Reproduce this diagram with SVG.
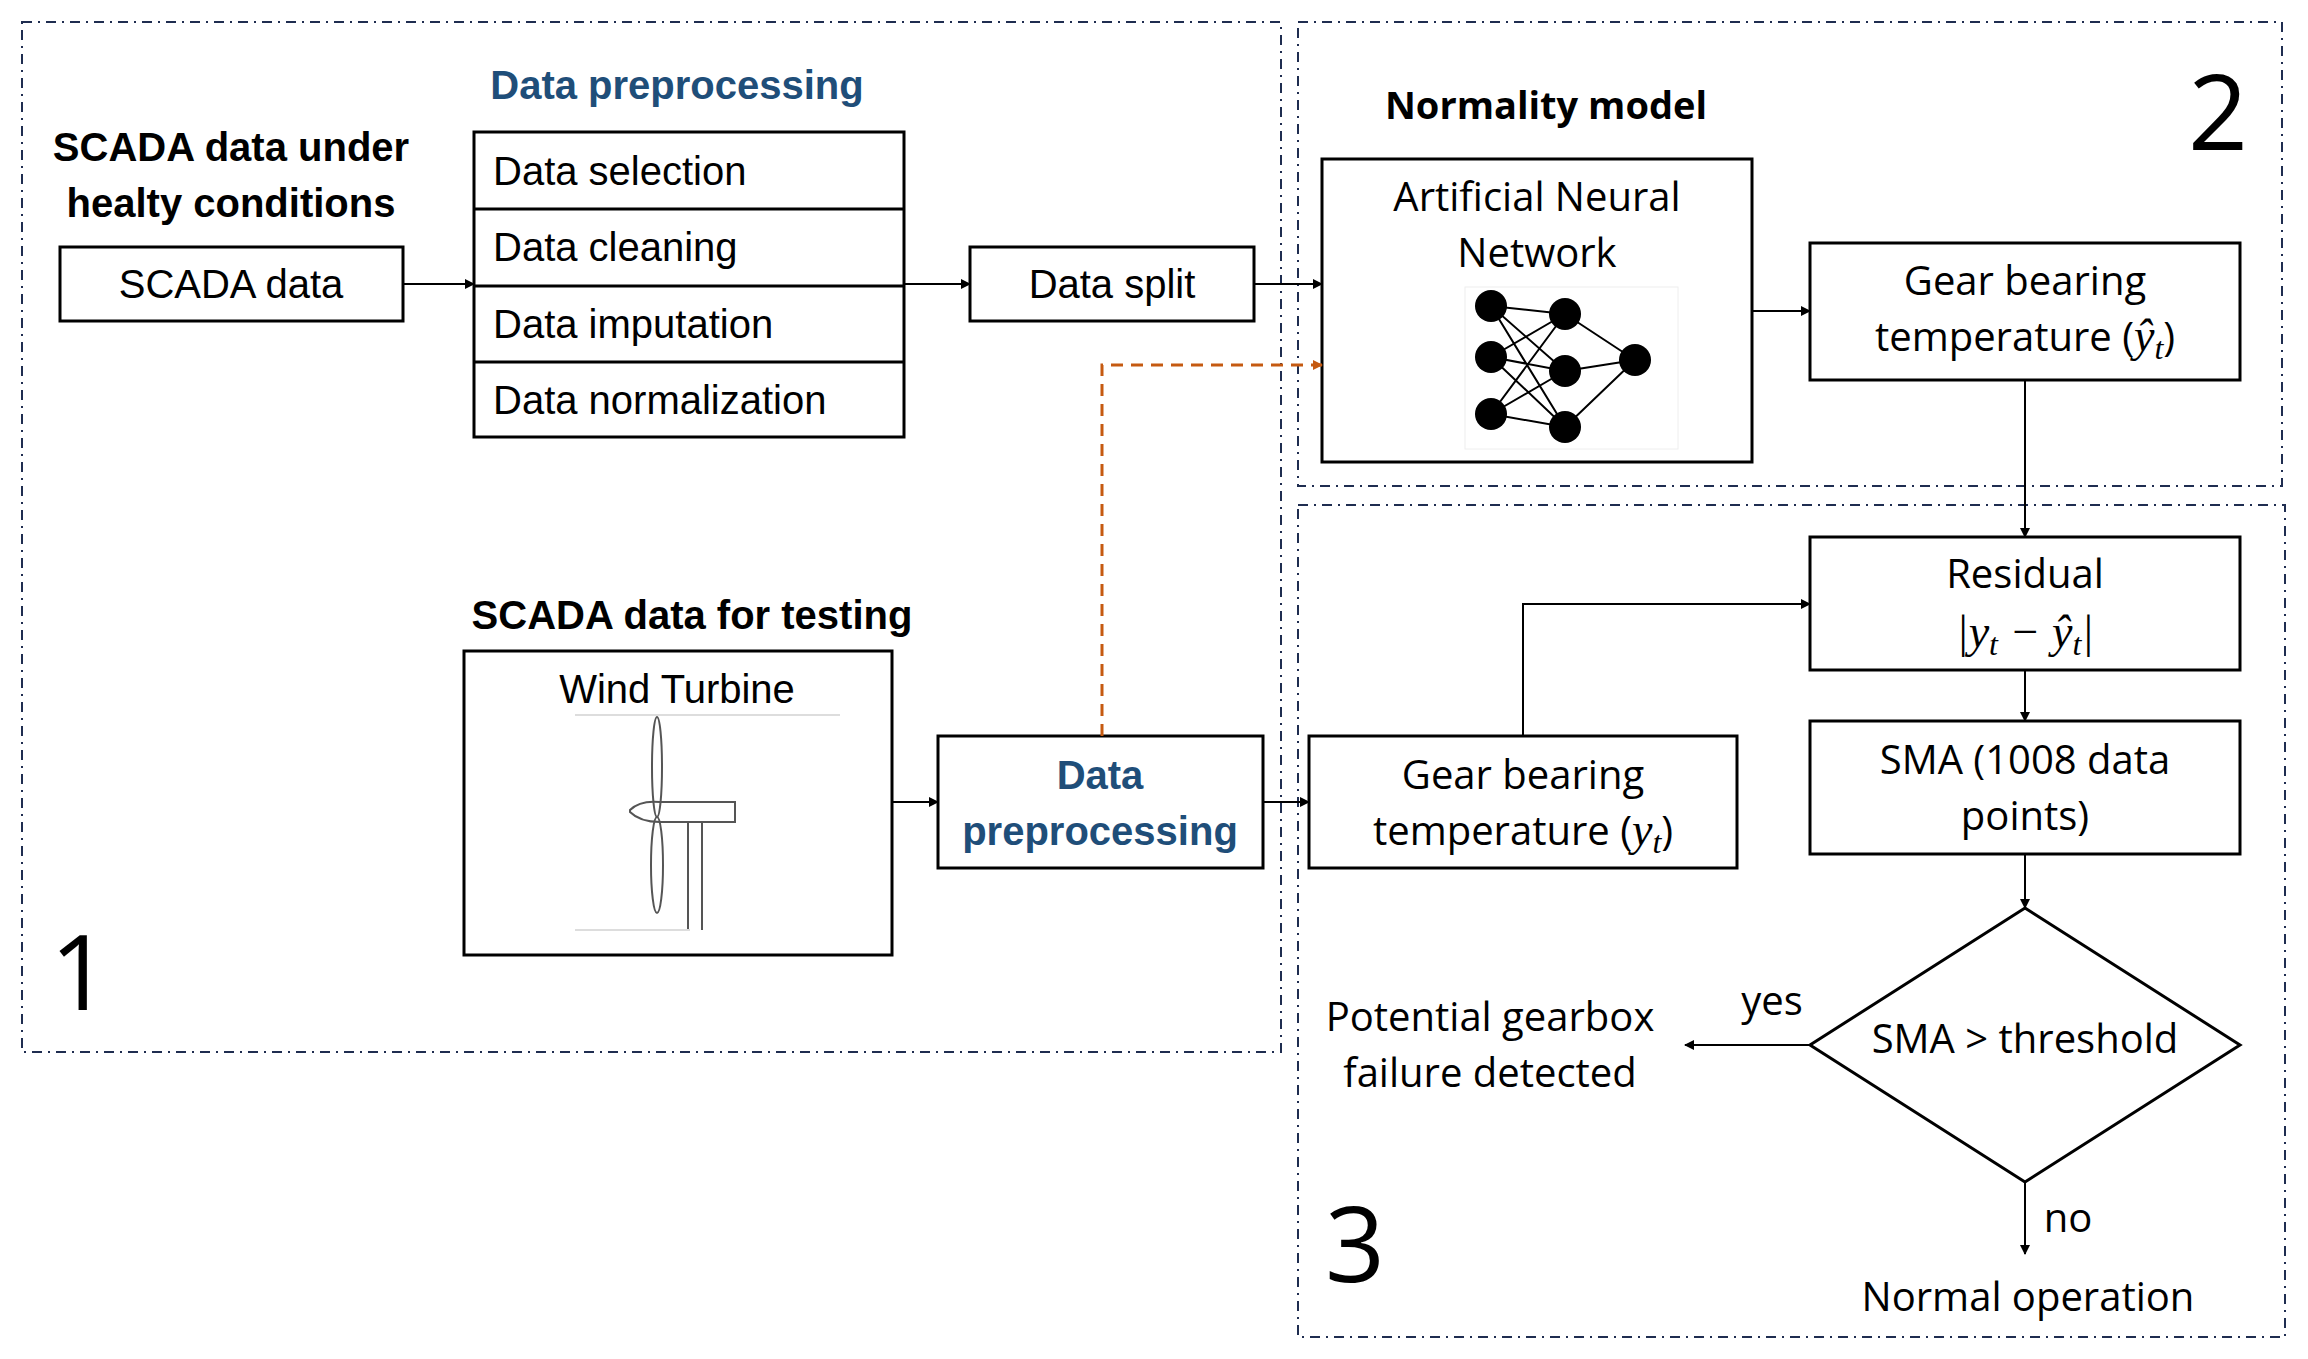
<svg xmlns="http://www.w3.org/2000/svg" width="2308" height="1359" viewBox="0 0 2308 1359">
<style>
.reg{fill:none;stroke:#1f2d50;stroke-width:2;stroke-dasharray:10,6,2,6}
.box{fill:#fff;stroke:#000;stroke-width:3}
.t{font-family:"Liberation Sans",Arial,sans-serif;font-size:40px;fill:#000;text-anchor:middle}
.s{text-anchor:start}
.o{font-family:"Open Sans","DejaVu Sans",sans-serif;font-size:40px;fill:#000;text-anchor:middle}
.b{font-weight:bold}
.blue{fill:#1f4e79}
.m{font-family:"Liberation Serif",serif;font-style:italic;font-size:46px}
.sub{font-size:32px}
.c{fill:none;stroke:#000;stroke-width:2;marker-end:url(#a)}
.big{font-family:"Open Sans",sans-serif;font-size:105px;fill:#000}
</style>
<defs>
<marker id="a" markerWidth="10" markerHeight="10" refX="9" refY="5" orient="auto" markerUnits="userSpaceOnUse"><path d="M0,0L10,5L0,10z" fill="#000"/></marker>
<marker id="ao" markerWidth="10" markerHeight="10" refX="9" refY="5" orient="auto" markerUnits="userSpaceOnUse"><path d="M0,0L10,5L0,10z" fill="#c55a11"/></marker>
</defs>
<rect width="2308" height="1359" fill="#fff"/>
<g id="regions">
<rect class="reg" x="22" y="22" width="1259" height="1030"/>
<rect class="reg" x="1298" y="22" width="984" height="464"/>
<rect class="reg" x="1298" y="505" width="987" height="832"/>
<text class="big" x="50" y="1010">1</text>
<text class="big" x="2188" y="150">2</text>
<text class="big" x="1325" y="1282">3</text>
</g>
<g id="titles">
<text class="t b" x="231" y="161">SCADA data under</text>
<text class="t b" x="231" y="217">healty conditions</text>
<text class="t b blue" x="677" y="99">Data preprocessing</text>
<text class="t b" x="692" y="629">SCADA data for testing</text>
<text class="o b" x="1546" y="119" style="font-size:38px">Normality model</text>
</g>
<g id="scada"><rect class="box" x="60" y="247" width="343" height="74"/><text class="t" x="231" y="298">SCADA data</text></g>
<g id="prep">
<rect class="box" x="474" y="132" width="430" height="305"/>
<path d="M474 209H904M474 286H904M474 362H904" stroke="#000" stroke-width="3"/>
<text class="t s" x="493" y="185">Data selection</text>
<text class="t s" x="493" y="261">Data cleaning</text>
<text class="t s" x="493" y="338">Data imputation</text>
<text class="t s" x="493" y="414">Data normalization</text>
</g>
<g id="split"><rect class="box" x="970" y="247" width="284" height="74"/><text class="t" x="1112" y="298">Data split</text></g>
<g id="ann">
<rect class="box" x="1322" y="159" width="430" height="303"/>
<text class="o" x="1537" y="211">Artificial Neural</text>
<text class="o" x="1537" y="267">Network</text>
<rect x="1465" y="287" width="213" height="162" fill="#fff" stroke="#eee"/>
<g stroke="#000" stroke-width="2">
<path d="M1491 306L1565 314M1491 306L1565 371M1491 306L1565 427M1491 357L1565 314M1491 357L1565 371M1491 357L1565 427M1491 414L1565 314M1491 414L1565 371M1491 414L1565 427M1565 314L1635 360M1565 371L1635 360M1565 427L1635 360"/>
</g>
<g fill="#000"><circle cx="1491" cy="306" r="16"/><circle cx="1491" cy="357" r="16"/><circle cx="1491" cy="414" r="16"/><circle cx="1565" cy="314" r="16"/><circle cx="1565" cy="371" r="16"/><circle cx="1565" cy="427" r="16"/><circle cx="1635" cy="360" r="16"/></g>
</g>
<g id="gearhat"><rect class="box" x="1810" y="243" width="430" height="137"/>
<text class="o" x="2025" y="295">Gear bearing</text>
<text class="o" x="2025" y="351">temperature (<tspan class="m">ŷ</tspan><tspan class="m sub" dy="8">t</tspan><tspan dy="-8">)</tspan></text></g>
<g id="residual"><rect class="box" x="1810" y="537" width="430" height="133"/>
<text class="o" x="2025" y="588">Residual</text>
<text class="o m" x="2025" y="647">|y<tspan class="sub" dy="8">t</tspan><tspan dy="-8"> − ŷ</tspan><tspan class="sub" dy="8">t</tspan><tspan dy="-8">|</tspan></text></g>
<g id="sma"><rect class="box" x="1810" y="721" width="430" height="133"/>
<text class="o" x="2025" y="774">SMA (1008 data</text>
<text class="o" x="2025" y="830">points)</text></g>
<g id="decision"><path class="box" d="M2025 908L2240 1045L2025 1182L1810 1045Z"/>
<text class="o" x="2025" y="1053">SMA &gt; threshold</text></g>
<g id="failure"><text class="o" x="1490" y="1031">Potential gearbox</text><text class="o" x="1490" y="1087">failure detected</text></g>
<g id="normal"><text class="o" x="2028" y="1311">Normal operation</text></g>
<g id="geary"><rect class="box" x="1309" y="736" width="428" height="132"/>
<text class="o" x="1523" y="789">Gear bearing</text>
<text class="o" x="1523" y="845">temperature (<tspan class="m">y</tspan><tspan class="m sub" dy="8">t</tspan><tspan dy="-8">)</tspan></text></g>
<g id="dp2"><rect class="box" x="938" y="736" width="325" height="132"/>
<text class="t b blue" x="1100" y="789">Data</text><text class="t b blue" x="1100" y="845">preprocessing</text></g>
<g id="turbine"><rect class="box" x="464" y="651" width="428" height="304"/>
<text class="t" x="677" y="703">Wind Turbine</text>
<g fill="none" stroke="#555" stroke-width="2">
<ellipse cx="657" cy="767" rx="5" ry="50"/><ellipse cx="657" cy="865" rx="6" ry="48"/>
<path d="M630 810Q640 800 660 802H735V822H660Q640 822 630 812Z"/>
<path d="M688 822V930M702 822V930"/>
<path d="M575 715H840M575 930H690" stroke="#ddd"/>
</g></g>
<g id="connectors">
<path class="c" d="M403 284H474"/>
<path class="c" d="M904 284H970"/>
<path class="c" d="M1254 284H1322"/>
<path class="c" d="M1752 311H1810"/>
<path class="c" d="M2025 380V537"/>
<path class="c" d="M2025 670V721"/>
<path class="c" d="M2025 854V908"/>
<path class="c" d="M2025 1182V1254"/>
<path class="c" d="M1810 1045H1685"/>
<path class="c" d="M1523 736V604H1810"/>
<path class="c" d="M1263 802H1309"/>
<path class="c" d="M892 802H938"/>
<path d="M1102 736V365H1322" fill="none" stroke="#c55a11" stroke-width="3" stroke-dasharray="12,8" marker-end="url(#ao)"/>
<text class="o" x="1772" y="1015">yes</text>
<text class="o" x="2068" y="1232">no</text>
</g>
</svg>
